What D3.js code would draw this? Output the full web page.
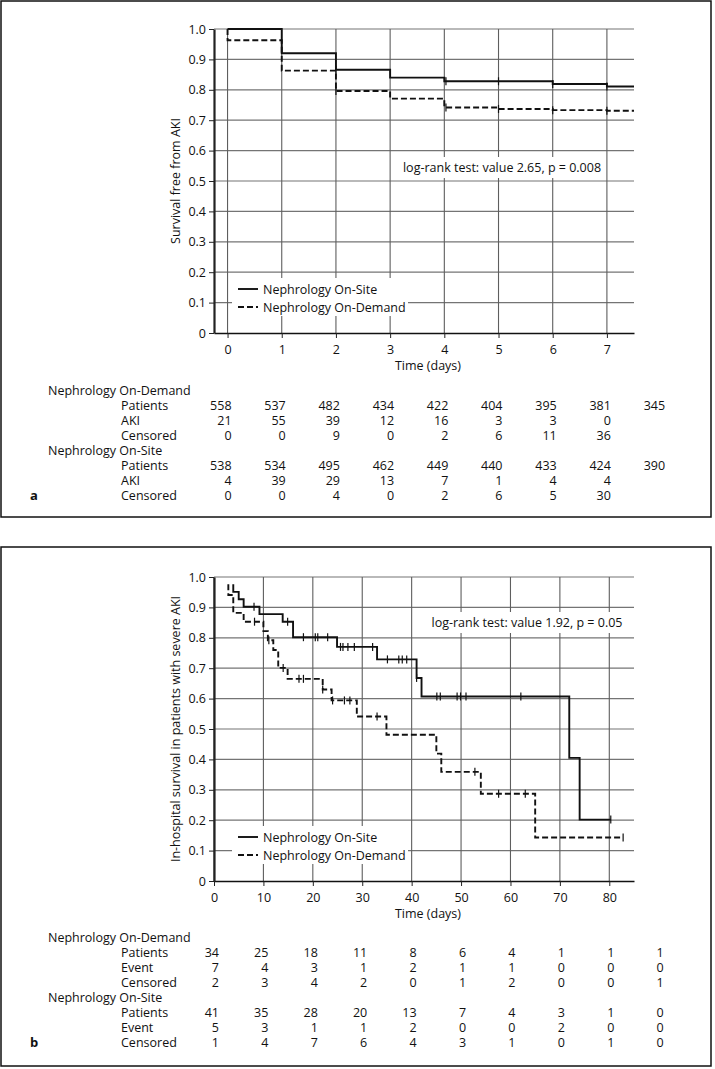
<!DOCTYPE html>
<html>
<head>
<meta charset="utf-8">
<script src="https://cdn.jsdelivr.net/npm/d3@7"></script>
<style>
  body { margin: 0; background: #fff; }
  svg text { font-family: "Open Sans", "Noto Sans", sans-serif; font-size: 12.5px; fill: #111; }
</style>
</head>
<body>
<div id="chart"></div>
<script>
// ---- panel a data (AKI) ----
var aTicks = [0, 1, 2, 3, 4, 5, 6, 7];
var aSiteTimes = [0, 1, 2, 3, 4, 6, 7, 7.5];
var aSiteSurv = [1.0, 0.920, 0.866, 0.840, 0.828, 0.819, 0.811, 0.811];
var aDemandTimes = [0, 0, 1, 2, 3, 4, 5, 6, 7, 7.5];
var aDemandSurv = [1.0, 0.963, 0.863, 0.796, 0.771, 0.742, 0.737, 0.733, 0.731, 0.731];
var aSiteCens = [2, 4.03, 5, 6, 7];
var aDemandCens = [2, 4.03, 5, 6, 7];

var aCols = [0, 1, 2, 3, 4, 5, 6, 7, 8];
var aDemPatients = [558, 537, 482, 434, 422, 404, 395, 381, 345];
var aDemAKI = [21, 55, 39, 12, 16, 3, 3, 0];
var aDemCensored = [0, 0, 9, 0, 2, 6, 11, 36];
var aSitePatients = [538, 534, 495, 462, 449, 440, 433, 424, 390];
var aSiteAKI = [4, 39, 29, 13, 7, 1, 4, 4];
var aSiteCensored = [0, 0, 4, 0, 2, 6, 5, 30];

// ---- panel b data (severe AKI survival) ----
var bTicks = [0, 10, 20, 30, 40, 50, 60, 70, 80];
var bSiteTimes = [3.9, 3.9, 5.0, 6.0, 9.2, 13.9, 16.0, 24.9, 33.0, 41.0, 42.0, 71.9, 74.0, 80.3];
var bSiteSurv = [0.976, 0.951, 0.927, 0.902, 0.878, 0.853, 0.802, 0.770, 0.729, 0.668, 0.607, 0.405, 0.202, 0.202];
var bDemandTimes = [2.9, 2.9, 3.9, 6.0, 10.0, 10.9, 12.0, 13.0, 14.9, 22.0, 23.8, 28.9, 34.9, 45.0, 46.0, 54.0, 65.0, 82.8];
var bDemandSurv = [0.976, 0.941, 0.882, 0.853, 0.822, 0.792, 0.760, 0.701, 0.665, 0.630, 0.594, 0.541, 0.481, 0.419, 0.359, 0.287, 0.143, 0.143];
var bSiteCens = [8.1, 14.9, 18.1, 20.5, 21.0, 23.0, 25.6, 26.1, 27.1, 28.4, 32.1, 35.1, 37.4, 38.1, 39.0, 41.0, 45.1, 45.8, 49.2, 49.9, 51.0, 62.1, 80.3];
var bDemandCens = [8.2, 11.1, 14.0, 17.2, 18.1, 22.0, 24.0, 26.4, 27.5, 33.0, 52.8, 57.6, 63.0, 82.8];

var bCols = [0, 10, 20, 30, 40, 50, 60, 70, 80, 90];
var bDemPatients = [34, 25, 18, 11, 8, 6, 4, 1, 1, 1];
var bDemEvent = [7, 4, 3, 1, 2, 1, 1, 0, 0, 0];
var bDemCensored = [2, 3, 4, 2, 0, 1, 2, 0, 0, 1];
var bSitePatients = [41, 35, 28, 20, 13, 7, 4, 3, 1, 0];
var bSiteEvent = [5, 3, 1, 1, 2, 0, 0, 2, 0, 0];
var bSiteCensored = [1, 4, 7, 6, 4, 3, 1, 0, 1, 0];

var yTicks = [0, 0.1, 0.2, 0.3, 0.4, 0.5, 0.6, 0.7, 0.8, 0.9, 1.0];

var svg = d3.select("#chart").append("svg")
  .attr("width", 715)
  .attr("height", 1069);

function zip(times, surv) {
  return times.map(function(t, i) { return { t: t, s: surv[i] }; });
}

// survival value at time t from a step curve
function survAt(pts, t) {
  var s = pts[0].s;
  pts.forEach(function(p) { if (p.t <= t + 1e-9) s = p.s; });
  return s;
}

function drawPanel(cfg) {
  // frame
  svg.append("rect")
    .attr("x", 1).attr("y", cfg.boxTop)
    .attr("width", 710).attr("height", cfg.boxBottom - cfg.boxTop)
    .attr("fill", "none").attr("stroke", "#111").attr("stroke-width", 1.5);

  var x = d3.scaleLinear().domain(cfg.xDomain).range([214, 634]);
  var y = d3.scaleLinear().domain([0, 1]).range([cfg.y0, cfg.y0 - 304]);

  var g = svg.append("g");

  // grid
  g.append("g").selectAll("line")
    .data(yTicks.slice(1))
    .enter().append("line")
    .attr("x1", x.range()[0]).attr("x2", x.range()[1])
    .attr("y1", d => y(d)).attr("y2", d => y(d))
    .attr("stroke", "#747474").attr("stroke-width", 1.2);

  g.append("g").selectAll("line")
    .data(cfg.ticks)
    .enter().append("line")
    .attr("x1", d => x(d)).attr("x2", d => x(d))
    .attr("y1", y(0)).attr("y2", y(1))
    .attr("stroke", "#5e5e5e").attr("stroke-width", 1.1);

  // axes
  var xAxis = g.append("g")
    .attr("transform", "translate(0," + y(0) + ")")
    .call(d3.axisBottom(x).tickValues(cfg.ticks).tickSize(5).tickSizeOuter(0).tickPadding(7));
  var yAxis = g.append("g")
    .attr("transform", "translate(" + x.range()[0] + ",0)")
    .call(d3.axisLeft(y).tickValues(yTicks).tickSize(5).tickSizeOuter(0).tickPadding(3)
      .tickFormat(d => d === 0 ? "0" : d3.format(".1f")(d)));
  [xAxis, yAxis].forEach(function(a) {
    a.attr("font-family", null).attr("font-size", null);
    a.selectAll("text").attr("fill", "#111");
    a.selectAll("line").attr("stroke", "#222");
  });
  xAxis.select(".domain").attr("stroke", "#111").attr("stroke-width", 1.6);
  yAxis.select(".domain").attr("stroke", "#222").attr("stroke-width", 2.2);

  // axis titles
  g.append("text")
    .attr("x", (x.range()[0] + x.range()[1]) / 2 + 4)
    .attr("y", cfg.y0 + 37)
    .attr("text-anchor", "middle")
    .text("Time (days)");
  g.append("text")
    .attr("transform", "translate(" + cfg.yTitleX + "," + y(0.5) + ") rotate(-90)")
    .attr("text-anchor", "middle")
    .text(cfg.yTitle);

  // log-rank annotation with white backing
  var lrG = g.append("g");
  var lr = lrG.append("text")
    .attr("x", cfg.lrX).attr("y", cfg.lrY)
    .attr("text-anchor", "middle")
    .text(cfg.lrText);
  var bb = lr.node().getBBox();
  lrG.insert("rect", "text")
    .attr("x", bb.x - 4).attr("y", bb.y - 2)
    .attr("width", bb.width + 8).attr("height", bb.height + 4)
    .attr("fill", "#fff");

  // curves
  var line = d3.line()
    .x(d => x(d.t)).y(d => y(d.s))
    .curve(d3.curveStepAfter);

  cfg.series.forEach(function(sr) {
    g.append("path")
      .datum(sr.pts)
      .attr("fill", "none")
      .attr("stroke", "#111")
      .attr("stroke-width", 1.9)
      .attr("stroke-dasharray", sr.dash)
      .attr("d", line);

    g.append("g").selectAll("line")
      .data(sr.cens)
      .enter().append("line")
      .attr("x1", d => x(d)).attr("x2", d => x(d))
      .attr("y1", d => y(survAt(sr.pts, d)) - 4)
      .attr("y2", d => y(survAt(sr.pts, d)) + 4)
      .attr("stroke", "#111").attr("stroke-width", 1.2);
  });

  // legend
  var leg = g.append("g");
  leg.append("rect")
    .attr("x", 232).attr("y", cfg.legY - 11)
    .attr("width", 176).attr("height", 38)
    .attr("fill", "#fff");
  cfg.series.forEach(function(sr, i) {
    var ly = cfg.legY + i * 18;
    leg.append("line")
      .attr("x1", 238).attr("x2", 258)
      .attr("y1", ly).attr("y2", ly)
      .attr("stroke", "#111").attr("stroke-width", 1.9)
      .attr("stroke-dasharray", sr.dash);
    leg.append("text")
      .attr("x", 263).attr("y", ly + 4.5)
      .text(sr.name);
  });

  // number-at-risk table
  var t = svg.append("g");
  var rowY = cfg.tableTop;
  cfg.groups.forEach(function(grp) {
    t.append("text").attr("x", 48).attr("y", rowY + 4.5).text(grp.name);
    rowY += 15;
    grp.rows.forEach(function(r) {
      t.append("text").attr("x", 121).attr("y", rowY + 4.5).text(r.label);
      t.append("g").selectAll("text")
        .data(r.values)
        .enter().append("text")
        .attr("x", (d, i) => x(cfg.cols[i]) + cfg.colShift)
        .attr("y", rowY + 4.5)
        .attr("text-anchor", "end")
        .text(d => d);
      rowY += 15;
    });
  });
  t.append("text")
    .attr("x", 30).attr("y", rowY - 15 + 4.5)
    .attr("font-weight", "bold")
    .style("font-size", "13px")
    .text(cfg.letter);
}

drawPanel({
  boxTop: 1, boxBottom: 517,
  xDomain: [-0.25, 7.5], ticks: aTicks, y0: 333,
  yTitle: "Survival free from AKI", yTitleX: 180,
  lrText: "log-rank test: value 2.65, p = 0.008", lrX: 502, lrY: 172,
  legY: 289,
  series: [
    { name: "Nephrology On-Site", pts: zip(aSiteTimes, aSiteSurv), cens: aSiteCens, dash: null },
    { name: "Nephrology On-Demand", pts: zip(aDemandTimes, aDemandSurv), cens: aDemandCens, dash: "6,3" }
  ],
  tableTop: 390, cols: aCols, colShift: 4, letter: "a",
  groups: [
    { name: "Nephrology On-Demand", rows: [
      { label: "Patients", values: aDemPatients },
      { label: "AKI", values: aDemAKI },
      { label: "Censored", values: aDemCensored } ] },
    { name: "Nephrology On-Site", rows: [
      { label: "Patients", values: aSitePatients },
      { label: "AKI", values: aSiteAKI },
      { label: "Censored", values: aSiteCensored } ] }
  ]
});

drawPanel({
  boxTop: 547, boxBottom: 1066,
  xDomain: [0, 85], ticks: bTicks, y0: 881,
  yTitle: "In-hospital survival in patients with severe AKI", yTitleX: 180,
  lrText: "log-rank test: value 1.92, p = 0.05", lrX: 527, lrY: 627,
  legY: 837,
  series: [
    { name: "Nephrology On-Site", pts: zip(bSiteTimes, bSiteSurv), cens: bSiteCens, dash: null },
    { name: "Nephrology On-Demand", pts: zip(bDemandTimes, bDemandSurv), cens: bDemandCens, dash: "6,3" }
  ],
  tableTop: 937, cols: bCols, colShift: 5, letter: "b",
  groups: [
    { name: "Nephrology On-Demand", rows: [
      { label: "Patients", values: bDemPatients },
      { label: "Event", values: bDemEvent },
      { label: "Censored", values: bDemCensored } ] },
    { name: "Nephrology On-Site", rows: [
      { label: "Patients", values: bSitePatients },
      { label: "Event", values: bSiteEvent },
      { label: "Censored", values: bSiteCensored } ] }
  ]
});
</script>
</body>
</html>
